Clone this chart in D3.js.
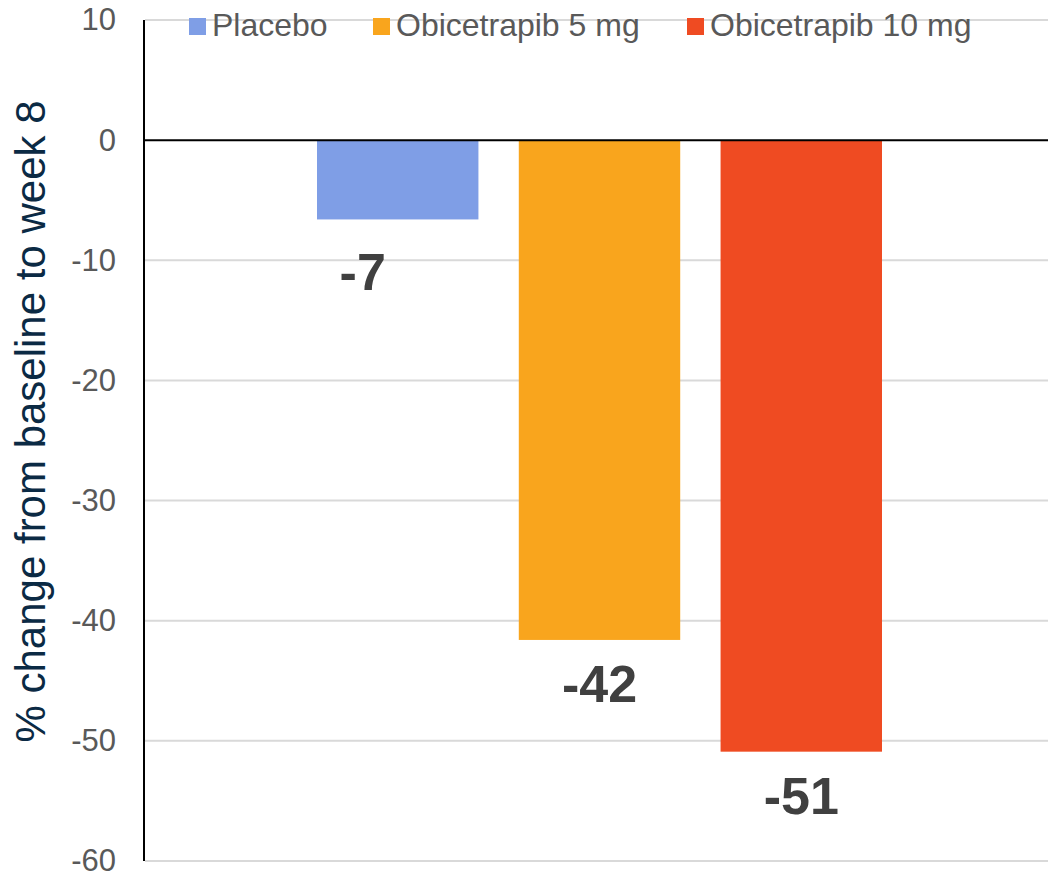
<!DOCTYPE html>
<html>
<head>
<meta charset="utf-8">
<script src="https://cdn.jsdelivr.net/npm/d3@7"></script>
<style>
  html, body { margin: 0; padding: 0; background: #fff; }
  svg { display: block; }
  text { font-family: "Liberation Sans", Arial, sans-serif; }
</style>
</head>
<body>
<svg id="chart" width="1048" height="875"></svg>
<script>
// ---- data ----
const series = ["Placebo", "Obicetrapib 5 mg", "Obicetrapib 10 mg"];
const values = [-6.6, -41.6, -50.9];
const labels = ["-7", "-42", "-51"];
const yTicks = [10, 0, -10, -20, -30, -40, -50, -60];
const colors = ["#7f9ee6", "#f9a51d", "#ef4b22"];
const yTitle = "% change from baseline to week 8";

// ---- layout ----
const W = 1048, H = 875;
const plotLeft = 145, plotRight = 1048, plotTop = 20, plotBottom = 861;
const labelNudge = [{dx: -35, dy: 9}, {dx: 0, dy: 0}, {dx: 0, dy: 0}];

const svg = d3.select("#chart");

const y = d3.scaleLinear().domain([-60, 10]).range([plotBottom, plotTop]);
const x = d3.scaleBand().domain(series).range([317, 882]).paddingInner(0.2).paddingOuter(0);

// gridlines
svg.append("g").selectAll("line").data(yTicks.filter(d => d !== 0)).join("line")
  .attr("x1", plotLeft).attr("x2", plotRight)
  .attr("y1", d => y(d)).attr("y2", d => y(d))
  .attr("stroke", "#d9d9d9").attr("stroke-width", 2);

// y axis
const yAxis = d3.axisLeft(y).tickValues(yTicks).tickSize(0).tickPadding(29).tickFormat(d => String(d));
const gy = svg.append("g").attr("transform", `translate(${plotLeft},0)`).call(yAxis);
gy.select(".domain").remove();
gy.selectAll("text").attr("font-size", 31).attr("fill", "#595959")
  .attr("font-family", "'Liberation Sans', Arial, sans-serif");
svg.append("line").attr("x1", plotLeft - 1).attr("x2", plotLeft - 1)
  .attr("y1", plotTop).attr("y2", plotBottom)
  .attr("stroke", "#000").attr("stroke-width", 2);

// bars
svg.append("g").selectAll("rect").data(series).join("rect")
  .attr("x", d => x(d))
  .attr("width", x.bandwidth())
  .attr("y", (d, i) => y(Math.max(0, values[i])))
  .attr("height", (d, i) => Math.abs(y(values[i]) - y(0)))
  .attr("fill", (d, i) => colors[i]);

// zero line
svg.append("line").attr("x1", plotLeft).attr("x2", plotRight)
  .attr("y1", y(0)).attr("y2", y(0))
  .attr("stroke", "#000").attr("stroke-width", 2);

// value labels
svg.append("g").selectAll("text").data(series).join("text")
  .attr("x", (d, i) => x(d) + x.bandwidth() / 2 + labelNudge[i].dx)
  .attr("y", (d, i) => y(values[i]) + 62 + labelNudge[i].dy)
  .attr("text-anchor", "middle")
  .attr("font-size", 52).attr("font-weight", "bold").attr("fill", "#404040")
  .text((d, i) => labels[i]);

// y title
svg.append("text")
  .attr("transform", `translate(45, ${(plotTop + plotBottom) / 2 - 19}) rotate(-90)`)
  .attr("text-anchor", "middle")
  .attr("font-size", 42).attr("fill", "#0b2a44")
  .text(yTitle);

// legend
const legendX = [189, 373, 687];
const lg = svg.append("g").selectAll("g").data(series).join("g")
  .attr("transform", (d, i) => `translate(${legendX[i]}, 0)`);
lg.append("rect").attr("x", 0).attr("y", 18).attr("width", 17).attr("height", 17)
  .attr("fill", (d, i) => colors[i]);
lg.append("text").attr("x", 23).attr("y", 36)
  .attr("font-size", 32).attr("fill", "#595959")
  .text(d => d);
</script>
</body>
</html>
